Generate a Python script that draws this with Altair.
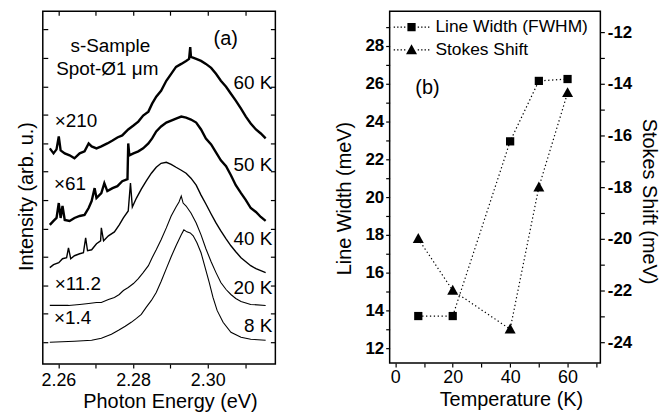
import altair as alt
import pandas as pd

FONT = "Liberation Sans"

# ---------------- Panel (a): PL spectra (photon energy in eV, offset intensity in arb. u.)
e60 = [2.2577, 2.2587, 2.2595, 2.2601, 2.2606, 2.2617, 2.2630, 2.2643, 2.2657, 2.2670,
       2.2681, 2.2689, 2.2702, 2.2715, 2.2731, 2.2745, 2.2758, 2.2771, 2.2787, 2.2801,
       2.2814, 2.2827, 2.2841, 2.2851, 2.2862, 2.2875, 2.2889, 2.2902, 2.2915, 2.2929,
       2.2942, 2.2950, 2.2953, 2.2955, 2.2969, 2.2982, 2.2995, 2.3009, 2.3022, 2.3035,
       2.3049, 2.3062, 2.3075, 2.3089, 2.3102, 2.3115, 2.3129, 2.3142, 2.3155]
i60 = [21.7, 21.2, 21.6, 22.9, 21.5, 21.2, 21.0, 20.7, 21.2, 21.4,
       22.2, 21.9, 21.7, 21.9, 22.2, 22.5, 22.8, 23.0, 23.6, 24.0,
       24.4, 25.0, 25.4, 26.2, 26.9, 27.5, 28.5, 29.2, 29.9, 30.2,
       30.5, 30.7, 31.9, 30.9, 30.7, 30.5, 30.2, 29.8, 29.2, 28.5,
       27.9, 27.2, 26.5, 25.7, 24.9, 24.2, 23.6, 23.2, 22.7]

e50 = [2.2577, 2.2587, 2.2595, 2.2601, 2.2606, 2.2611, 2.2617, 2.2630, 2.2643, 2.2657,
       2.2670, 2.2681, 2.2689, 2.2697, 2.2702, 2.2715, 2.2723, 2.2731, 2.2745, 2.2758,
       2.2771, 2.2785, 2.2787, 2.2790, 2.2801, 2.2814, 2.2827, 2.2841, 2.2851, 2.2862,
       2.2875, 2.2889, 2.2902, 2.2915, 2.2929, 2.2942, 2.2955, 2.2969, 2.2982, 2.2995,
       2.3009, 2.3022, 2.3035, 2.3049, 2.3062, 2.3075, 2.3089, 2.3102, 2.3115, 2.3129,
       2.3142, 2.3155]
i50 = [14.0, 14.4, 14.7, 16.2, 14.7, 15.9, 14.5, 14.4, 14.7, 14.9,
       15.0, 15.7, 16.4, 17.7, 16.7, 17.2, 18.2, 17.4, 17.7, 17.9,
       18.4, 18.6, 22.2, 21.0, 21.2, 21.4, 21.7, 22.2, 22.7, 23.4,
       23.9, 24.3, 24.5, 24.7, 24.9, 24.8, 24.6, 24.3, 23.6, 22.7,
       22.1, 21.3, 20.5, 19.9, 19.0, 18.0, 17.2, 16.5, 15.7, 15.3,
       14.8, 14.4]

e40 = [2.2577, 2.2587, 2.2601, 2.2611, 2.2622, 2.2627, 2.2633, 2.2643, 2.2657, 2.2667,
       2.2673, 2.2678, 2.2689, 2.2702, 2.2713, 2.2715, 2.2721, 2.2734, 2.2750, 2.2763,
       2.2774, 2.2787, 2.2793, 2.2798, 2.2809, 2.2822, 2.2835, 2.2849, 2.2862, 2.2875,
       2.2889, 2.2902, 2.2915, 2.2929, 2.2942, 2.2955, 2.2969, 2.2982, 2.2995, 2.3009,
       2.3022, 2.3035, 2.3049, 2.3062, 2.3075, 2.3089, 2.3102, 2.3115, 2.3129, 2.3142,
       2.3155]
i40 = [9.7, 10.0, 10.2, 10.6, 10.7, 11.7, 10.6, 10.9, 11.1, 11.2,
       12.7, 11.4, 11.5, 12.1, 12.4, 13.7, 12.4, 12.9, 13.3, 14.0,
       14.7, 15.4, 18.2, 15.8, 16.7, 17.6, 18.4, 19.2, 19.8, 20.2,
       20.3, 20.1, 19.8, 19.5, 19.2, 18.7, 18.0, 17.0, 16.1, 15.1,
       14.2, 13.4, 12.6, 11.9, 11.3, 10.7, 10.3, 9.9, 9.6, 9.4,
       9.2]

e20 = [2.2577, 2.2601, 2.2627, 2.2657, 2.2681, 2.2702, 2.2715, 2.2734, 2.2750, 2.2763,
       2.2774, 2.2787, 2.2801, 2.2814, 2.2827, 2.2841, 2.2851, 2.2862, 2.2875, 2.2889,
       2.2902, 2.2915, 2.2923, 2.2929, 2.2934, 2.2942, 2.2955, 2.2969, 2.2982, 2.2995,
       2.3009, 2.3022, 2.3035, 2.3049, 2.3062, 2.3075, 2.3089, 2.3115, 2.3155]
i20 = [5.9, 5.9, 5.9, 6.0, 6.1, 6.2, 6.2, 6.5, 6.7, 7.0,
       7.4, 7.7, 8.1, 8.6, 9.2, 9.9, 10.7, 11.5, 12.5, 13.7,
       14.9, 15.8, 16.3, 16.9, 16.2, 15.9, 15.2, 14.2, 13.0, 11.6,
       10.3, 9.2, 8.2, 7.5, 7.0, 6.6, 6.3, 6.0, 5.9]

e8 = [2.2577, 2.2643, 2.2689, 2.2715, 2.2742, 2.2761, 2.2779, 2.2795, 2.2809, 2.2822,
      2.2835, 2.2849, 2.2862, 2.2875, 2.2889, 2.2902, 2.2915, 2.2929, 2.2936, 2.2944,
      2.2953, 2.2961, 2.2971, 2.2982, 2.2993, 2.3004, 2.3014, 2.3025, 2.3041, 2.3062,
      2.3089, 2.3115, 2.3155]
i8 = [2.2, 2.3, 2.4, 2.6, 3.0, 3.4, 3.8, 4.2, 4.6, 5.0,
      5.7, 6.4, 7.2, 8.3, 9.6, 10.8, 11.9, 13.0, 13.5, 13.3,
      13.2, 12.9, 12.2, 11.2, 9.7, 8.2, 6.7, 5.4, 4.2, 3.2,
      2.7, 2.5, 2.4]

curve_names = ["60 K", "50 K", "40 K", "20 K", "8 K"]
curve_widths = [2.4, 2.4, 1.4, 1.1, 1.1]

# annotations of panel (a)
ann_c_text = ["s-Sample", "Spot-Ø1 μm", "(a)"]
ann_c_e = [2.2739, 2.2731, 2.3048]
ann_c_i = [31.4, 29.05, 32.1]
ann_c_fs = [19, 19, 20]

ann_r_text = ["60 K", "50 K", "40 K", "20 K", "8 K"]
ann_r_e = [2.3173, 2.3173, 2.3173, 2.3173, 2.3173]
ann_r_i = [27.7, 19.4, 12.0, 7.0, 3.2]

ann_l_text = ["×210", "×61", "×11.2", "×1.4"]
ann_l_e = [2.2590, 2.2588, 2.2590, 2.2588]
ann_l_i = [23.9, 17.5, 7.5, 4.0]

x_ticks_a = [2.26, 2.27, 2.28, 2.29, 2.30, 2.31]
y_ticks_a = [2.2, 5.06, 7.92, 10.78, 13.64, 16.5, 19.36, 22.22, 25.08, 27.94, 30.8, 33.66]

# ---------------- Panel (b)
temps = [8, 20, 40, 50, 60]
line_width = [13.7, 13.7, 22.95, 26.15, 26.25]
stokes_shift = [-20.0, -22.0, -23.5, -18.0, -14.35]
series_names = ["Line Width (FWHM)", "Stokes Shift"]

# ---------------- build tables
frames = []
for name, w, e, i in zip(curve_names, curve_widths, [e60, e50, e40, e20, e8], [i60, i50, i40, i20, i8]):
    f = pd.DataFrame({"E": e, "I": i})
    f["T"] = name
    f["w"] = w
    f["k"] = range(len(f))
    frames.append(f)
df_a = pd.concat(frames, ignore_index=True)

df_c = pd.DataFrame({"txt": ann_c_text, "E": ann_c_e, "I": ann_c_i, "fs": ann_c_fs})
df_r = pd.DataFrame({"txt": ann_r_text, "E": ann_r_e, "I": ann_r_i})
df_l = pd.DataFrame({"txt": ann_l_text, "E": ann_l_e, "I": ann_l_i})

xs_a = alt.Scale(domain=[2.25582, 2.3181], nice=False, zero=False)
ys_a = alt.Scale(domain=[0, 35.5], nice=False, zero=False)

lines_a = alt.Chart(df_a).mark_line(color="black").encode(
    x=alt.X("E:Q", scale=xs_a, axis=alt.Axis(
        orient="bottom", values=x_ticks_a,
        labelExpr="round(datum.value*100) % 2 == 0 ? format(datum.value, '.2f') : ''",
        title="Photon Energy (eV)", titleX=128, tickSize=4, labelPadding=4,
        titlePadding=2, labelFontSize=18, titleFontSize=20)),
    y=alt.Y("I:Q", scale=ys_a, axis=alt.Axis(
        orient="left", values=y_ticks_a, labels=False, tickSize=5, offset=-5,
        title="Intensity (arb. u.)", titlePadding=6, titleY=186, titleFontSize=20)),
    detail="T:N",
    order="k:Q",
    strokeWidth=alt.StrokeWidth("w:Q", scale=None, legend=None),
)

text_c = alt.Chart(df_c).mark_text(font=FONT, align="center", baseline="alphabetic", color="black").encode(
    x=alt.X("E:Q", scale=xs_a, axis=alt.Axis(orient="top", values=x_ticks_a, labels=False,
                                             tickSize=4, offset=-4, title=None)),
    y=alt.Y("I:Q", scale=ys_a, axis=alt.Axis(orient="right", values=y_ticks_a, labels=False,
                                             tickSize=5, offset=-5, title=None)),
    text="txt:N",
    size=alt.Size("fs:Q", scale=None, legend=None),
)
text_r = alt.Chart(df_r).mark_text(font=FONT, align="right", baseline="alphabetic", fontSize=19, color="black").encode(
    x=alt.X("E:Q", scale=xs_a, axis=None),
    y=alt.Y("I:Q", scale=ys_a, axis=None),
    text="txt:N",
)
text_l = alt.Chart(df_l).mark_text(font=FONT, align="left", baseline="alphabetic", fontSize=19, color="black").encode(
    x=alt.X("E:Q", scale=xs_a, axis=None),
    y=alt.Y("I:Q", scale=ys_a, axis=None),
    text="txt:N",
)

panel_a = alt.layer(lines_a, text_c, text_r, text_l).resolve_axis(
    x="independent", y="independent").properties(width=234, height=355)

# ---------------- panel b
df_lw = pd.DataFrame({"T": temps, "LW": line_width})
df_lw["series"] = series_names[0]
df_ss = pd.DataFrame({"T": temps, "SS": stokes_shift})
df_ss["series"] = series_names[1]
df_key = pd.concat([df_lw[["T", "LW", "series"]].iloc[:1], df_lw[["T", "LW"]].iloc[:1].assign(series=series_names[1])],
                   ignore_index=True)
df_b_lbl = pd.DataFrame({"T": [11.2], "LW": [25.47], "txt": ["(b)"]})

# marker glyphs (unit box, scaled by the symbol size)
sq_core = "M-0.36,-0.36H0.36V0.36H-0.36Z"
tri_core = "M0,-0.5L0.48,0.37L-0.48,0.37Z"
dots = ("M-1.56,-0.055h0.12v0.11h-0.12Z M-1.26,-0.055h0.12v0.11h-0.12Z "
        "M-0.96,-0.055h0.12v0.11h-0.12Z M-0.66,-0.055h0.12v0.11h-0.12Z "
        "M0.54,-0.055h0.12v0.11h-0.12Z M0.84,-0.055h0.12v0.11h-0.12Z "
        "M1.14,-0.055h0.12v0.11h-0.12Z M1.44,-0.055h0.12v0.11h-0.12Z")
key_paths = [sq_core + " " + dots, tri_core + " " + dots]

xs_b = alt.Scale(domain=[-1.97, 71.43], nice=False, zero=False)
x_b = alt.X("T:Q", scale=xs_b, axis=alt.Axis(
    values=list(range(0, 80, 10)),
    labelExpr="datum.value % 20 == 0 ? datum.label : ''",
    title="Temperature (K)", titleX=122, tickSize=4, labelPadding=2, titlePadding=3,
    labelFontSize=18, titleFontSize=20))

y_lw = alt.Y("LW:Q", scale=alt.Scale(domain=[11.21, 29.84], nice=False, zero=False), axis=alt.Axis(
    orient="left", values=list(range(12, 30)),
    labelExpr="datum.value % 2 == 0 ? datum.label : ''",
    labelFontWeight="bold", labelFontSize=17, tickSize=4, labelPadding=2,
    title="Line Width (meV)", titlePadding=10, titleY=188, titleFontSize=20))
y_ss = alt.Y("SS:Q", scale=alt.Scale(domain=[-24.81, -11.19], nice=False, zero=False), axis=alt.Axis(
    orient="right", values=list(range(-24, -11)),
    labelExpr="datum.value % 2 == 0 ? '-' + abs(datum.value) : ''",
    labelFontWeight="bold", labelFontSize=17, tickSize=4, labelPadding=3,
    title="Stokes Shift (meV)", titlePadding=7, titleY=191, titleFontSize=20))

lw_line = alt.Chart(df_lw).mark_line(color="black", strokeDash=[1.3, 2.6], strokeWidth=1.2).encode(x=x_b, y=y_lw)
lw_pts = alt.Chart(df_lw).mark_point(filled=True, size=529, opacity=1, color="black", shape=sq_core).encode(x=x_b, y=y_lw)
lw_lbl = alt.Chart(df_b_lbl).mark_text(font=FONT, fontSize=20, align="center", baseline="alphabetic", color="black").encode(
    x=x_b, y=y_lw, text="txt:N")
# legend key layer (drawn at zero size; only its legend is seen)
key = alt.Chart(df_key).mark_point(filled=True, size=0, opacity=1, color="black").encode(
    x=x_b, y=y_lw,
    shape=alt.Shape("series:N", scale=alt.Scale(domain=series_names, range=key_paths),
                    legend=alt.Legend(title=None, orient="none", legendX=359.5, legendY=4.5,
                                      symbolSize=529, symbolFillColor="black",
                                      symbolStrokeWidth=0, symbolOpacity=1,
                                      labelFontSize=17.5, labelFont=FONT, labelColor="black",
                                      labelOffset=12.5, rowPadding=3, padding=0)))
ss_line = alt.Chart(df_ss).mark_line(color="black", strokeDash=[1.3, 2.6], strokeWidth=1.2).encode(x=x_b, y=y_ss)
ss_pts = alt.Chart(df_ss).mark_point(filled=True, size=529, opacity=1, color="black", shape=tri_core).encode(x=x_b, y=y_ss)

panel_b = alt.layer(
    alt.layer(lw_line, lw_pts, lw_lbl, key),
    alt.layer(ss_line, ss_pts),
).resolve_scale(y="independent").properties(width=212, height=354)

chart = alt.hconcat(panel_a, panel_b, spacing=57).properties(
    padding={"left": 7, "top": 0, "right": 0, "bottom": 0}
).configure_view(stroke="black", strokeWidth=1.5).configure_axis(
    domain=False, grid=False, labelColor="black", titleColor="black", tickColor="black",
    tickWidth=1.2, labelFont=FONT, titleFont=FONT, titleFontWeight="normal"
)

chart.save("out.html", embed_options={"renderer": "svg", "actions": False})
